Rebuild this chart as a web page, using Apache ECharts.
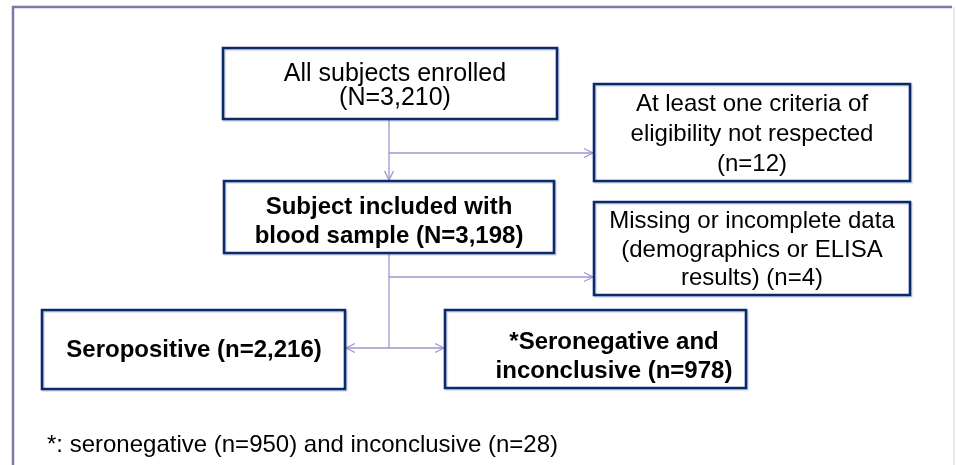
<!DOCTYPE html>
<html lang="en">
<head>
    <meta charset="UTF-8">
    <title>Flow chart</title>
    <script src="https://cdn.jsdelivr.net/npm/echarts@6/dist/echarts.min.js"></script>
    <style>
        html,body{margin:0;padding:0;background:#fff;}
        #main{width:956px;height:465px;}
    </style>
</head>
<body>
<div id="main"></div>
<script>
    // box texts (top to bottom)
    var boxTexts = [
        'All subjects enrolled\n(N=3,210)',
        'At least one criteria of\neligibility not respected\n(n=12)',
        'Missing or incomplete data\n(demographics or ELISA\nresults) (n=4)',
        'Subject included with\nblood sample (N=3,198)',
        'Seropositive (n=2,216)',
        '*Seronegative and\ninconclusive (n=978)'
    ];
    var boxBold = [false, false, false, true, true, true];
    var footnote = '*: seronegative (n=950) and inconclusive (n=28)';

    // layout: left, top, right, bottom, text centre x, text centre y, line height, font size
    var boxPos = [
        [223, 48, 557, 119, 395, 86, 24, 25],
        [594, 84, 910, 181, 752, 134, 30, 24],
        [594, 202, 910, 295, 752, 250, 28.5, 24],
        [224, 181, 554, 253, 389, 222, 29.5, 24],
        [42, 310, 345, 389, 194, 350, 29, 24],
        [445, 310, 746, 388, 614, 357, 29, 24]
    ];

    // connectors: from, to, arrow at end
    var links = [
        [[389, 119], [389, 180], true],
        [[389, 153], [593, 153], true],
        [[389, 253], [389, 348], false],
        [[389, 277], [593, 277], true],
        [[389, 348], [346, 348], true],
        [[389, 348], [444, 348], true]
    ];

    var lineColor = '#9b98cf';
    var boxColor = '#0b2a6c';
    var fontFam = '"Liberation Sans", Arial, sans-serif';

    var elements = [];

    // outer frame
    elements.push({
        type: 'polyline',
        shape: {points: [[13, 470], [13, 7], [952, 7]]},
        style: {stroke: '#7d7aa8', lineWidth: 2.5, fill: null}
    });
    elements.push({
        type: 'line',
        shape: {x1: 954, y1: 7, x2: 954, y2: 470},
        style: {stroke: '#e2e2e2', lineWidth: 1.5}
    });

    for (var i = 0; i < links.length; i++) {
        var a = links[i][0], b = links[i][1];
        elements.push({
            type: 'line',
            shape: {x1: a[0], y1: a[1], x2: b[0], y2: b[1]},
            style: {stroke: lineColor, lineWidth: 1.3}
        });
        if (links[i][2]) {
            var dx = b[0] - a[0], dy = b[1] - a[1];
            var len = Math.sqrt(dx * dx + dy * dy);
            var ux = dx / len, uy = dy / len;
            var back = 9, half = 4.5;
            elements.push({
                type: 'polyline',
                shape: {points: [
                    [b[0] - ux * back - uy * half, b[1] - uy * back + ux * half],
                    [b[0], b[1]],
                    [b[0] - ux * back + uy * half, b[1] - uy * back - ux * half]
                ]},
                style: {stroke: lineColor, lineWidth: 1.3, fill: null}
            });
        }
    }

    for (var j = 0; j < boxTexts.length; j++) {
        var p = boxPos[j];
        elements.push({
            type: 'rect',
            shape: {x: p[0], y: p[1], width: p[2] - p[0], height: p[3] - p[1]},
            style: {
                fill: '#fff', stroke: boxColor, lineWidth: 2.6,
                shadowColor: 'rgba(70,90,150,0.3)', shadowOffsetX: 1.2, shadowOffsetY: 1.2, shadowBlur: 1
            }
        });
        elements.push({
            type: 'text',
            x: p[4],
            y: p[5],
            style: {
                text: boxTexts[j],
                fill: '#000',
                fontSize: p[7],
                fontWeight: boxBold[j] ? 'bold' : 'normal',
                fontFamily: fontFam,
                lineHeight: p[6],
                align: 'center',
                verticalAlign: 'middle'
            }
        });
    }

    elements.push({
        type: 'text',
        x: 47,
        y: 445,
        style: {
            text: footnote,
            fill: '#000',
            fontSize: 24,
            fontFamily: fontFam,
            align: 'left',
            verticalAlign: 'middle'
        }
    });

    var myChart = echarts.init(document.getElementById('main'));
    myChart.setOption({
        backgroundColor: '#fff',
        animation: false,
        graphic: {elements: elements}
    });
</script>
</body>
</html>
